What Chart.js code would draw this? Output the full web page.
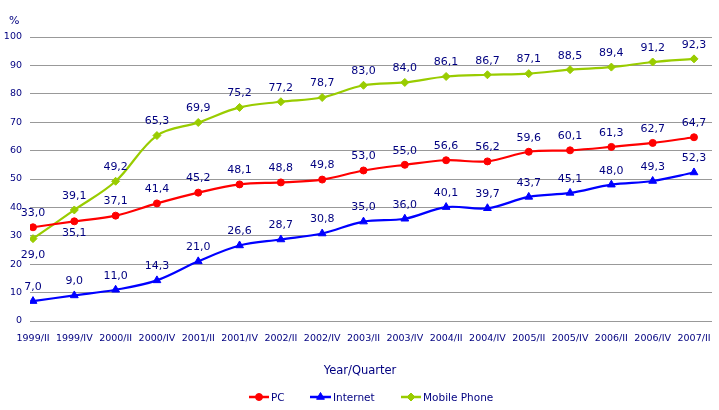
<!DOCTYPE html>
<html><head><meta charset="utf-8">
<script src="https://cdn.jsdelivr.net/npm/chart.js@4/dist/chart.umd.min.js"></script>
<style>html,body{margin:0;padding:0;background:#fff;}#wrap{width:719px;height:410px;}</style>
</head><body><div id="wrap"><canvas id="c" width="719" height="410"></canvas></div>
<script>
const categories = ["1999/II","1999/IV","2000/II","2000/IV","2001/II","2001/IV","2002/II","2002/IV","2003/II","2003/IV","2004/II","2004/IV","2005/II","2005/IV","2006/II","2006/IV","2007/II"];
const pcValues = [33.0,35.1,37.1,41.4,45.2,48.1,48.8,49.8,53.0,55.0,56.6,56.2,59.6,60.1,61.3,62.7,64.7];
const internetValues = [7.0,9.0,11.0,14.3,21.0,26.6,28.7,30.8,35.0,36.0,40.1,39.7,43.7,45.1,48.0,49.3,52.3];
const mobileValues = [29.0,39.1,49.2,65.3,69.9,75.2,77.2,78.7,83.0,84.0,86.1,86.7,87.1,88.5,89.4,91.2,92.3];
const yTicks = [0,10,20,30,40,50,60,70,80,90,100];
const seriesNames = ["PC","Internet","Mobile Phone"];

const NAVY = '#000080';
const FONT = '"DejaVu Sans", Verdana, sans-serif';
const toPts = arr => arr.map((v,i)=>({x:i,y:v}));
const fmt = v => v.toFixed(1).replace('.', ',');

const labelPlugin = {
  id:'labels',
  afterDatasetsDraw(chart){
    const ctx = chart.ctx;
    ctx.save();
    ctx.font = '11px ' + FONT;
    ctx.fillStyle = NAVY;
    ctx.textAlign = 'center';
    ctx.textBaseline = 'middle';
    chart.data.datasets.forEach((ds, di) => {
      const meta = chart.getDatasetMeta(di);
      meta.data.forEach((pt, i) => {
        const v = ds.data[i].y;
        let below = false;
        if (di === 0 && i === 1) below = true;
        if (di === 2 && i === 0) below = true;
        const dy = below ? (di===2 ? 17 : 12) : -14;
        ctx.fillText(fmt(v), pt.x, pt.y + dy);
      });
    });
    ctx.restore();
  },
  afterDraw(chart){
    const ctx = chart.ctx;
    ctx.save();
    ctx.fillStyle = NAVY;
    ctx.textBaseline = 'middle';
    ctx.font = '11px ' + FONT;
    ctx.textAlign = 'left';
    ctx.fillText('%', 9, 21);
    ctx.font = '11.5px ' + FONT;
    ctx.textAlign = 'center';
    ctx.fillText('Year/Quarter', 360, 371);
    const items = [{x0:249,x1:269},{x0:310,x1:331},{x0:401,x1:421}];
    chart.data.datasets.forEach((ds, di) => {
      const it = items[di];
      const y = 397;
      ctx.strokeStyle = ds.borderColor;
      ctx.lineWidth = 2.5;
      ctx.beginPath(); ctx.moveTo(it.x0, y); ctx.lineTo(it.x1, y); ctx.stroke();
      ctx.fillStyle = ds.borderColor;
      ctx.lineWidth = 1;
      Chart.helpers.drawPoint(ctx, {pointStyle: ds.pointStyle, radius: ds.pointRadius, rotation: 0, borderWidth:1}, (it.x0+it.x1)/2, y);
      ctx.fillStyle = NAVY;
      ctx.textAlign = 'left';
      ctx.font = '10.5px ' + FONT;
      ctx.fillText(seriesNames[di], it.x1 + 2, y + 1);
    });
    ctx.restore();
  }
};

function mk(name, vals, color, style, r){
  return {label:name, data:toPts(vals), borderColor:color, backgroundColor:color,
    pointBackgroundColor:color, pointBorderColor:color, pointBorderWidth:1, pointStyle:style, pointRadius:r,
    borderWidth:2.2, tension:0.35, fill:false};
}

new Chart(document.getElementById('c'), {
  type:'line',
  data:{datasets:[
    mk(seriesNames[0], pcValues, '#FF0000', 'circle', 3.5),
    mk(seriesNames[1], internetValues, '#0000FF', 'triangle', 4.5),
    mk(seriesNames[2], mobileValues, '#99CC00', 'rectRot', 4)
  ]},
  options:{
    responsive:false, animation:false, devicePixelRatio:1,
    layout:{padding:{top:37,right:7,left:0,bottom:0}},
    plugins:{legend:{display:false}, tooltip:{enabled:false}},
    scales:{
      x:{type:'linear', min:-0.0726, max:16.436,
        grid:{display:false}, border:{display:false},
        afterFit(s){ s.height = 89; },
        afterBuildTicks(s){ s.ticks = categories.map((c,i)=>({value:i})); },
        ticks:{autoSkip:false, maxRotation:0, minRotation:0, padding:4, color:NAVY,
          font:{family:FONT, size:9.5},
          callback:(v)=>categories[v]}
      },
      y:{min:0, max:100,
        afterFit(s){ s.width = 30; },
        afterBuildTicks(s){ s.ticks = yTicks.map(v=>({value:v})); },
        grid:{color:'#999999', lineWidth:1, drawTicks:false},
        border:{display:false},
        ticks:{padding:8, color:NAVY, font:{family:FONT, size:9.5}}
      }
    }
  },
  plugins:[labelPlugin]
});
</script></body></html>
